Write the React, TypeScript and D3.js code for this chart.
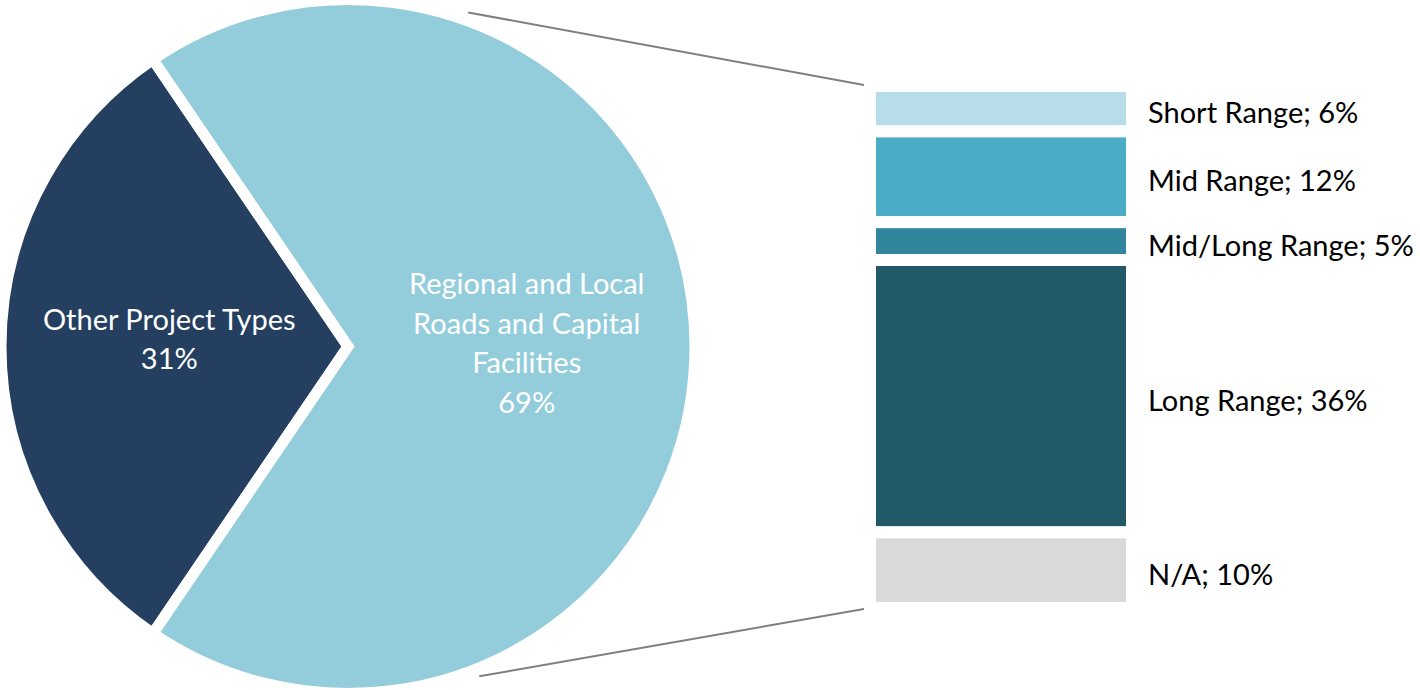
import * as d3 from "d3";

// pie: the two top-level groups
const pieNames = ["Other Project Types", "Regional and Local Roads and Capital Facilities"];
const pieLines = [["Other Project Types"], ["Regional and Local", "Roads and Capital", "Facilities"]];
const pieValues = [31, 69];
const pieColors = ["#243F60", "#93CDDC"];

// bar: breakdown of the 69% slice
const barNames = ["Short Range", "Mid Range", "Mid/Long Range", "Long Range", "N/A"];
const barValues = [6, 12, 5, 36, 10];
const barColors = ["#B7DEE8", "#4BACC6", "#31859C", "#215968", "#D9D9D9"];

const W = 1420;
const H = 690;
const CX = 348;
const CY = 346.5;
const R = 347;
const PIE_BORDER = 11;
const BAR_BORDER = 12;
const BAR_X0 = 870;
const BAR_X1 = 1132;
const BAR_Y0 = 86;
const BAR_Y1 = 608;
const FONT = "Lato, 'Open Sans', sans-serif";
const FONT_SIZE = 29;
const LINE_H = 39.5;

// connector start angles (degrees, clockwise from 3 o'clock) and radius
const CONNECT_TOP = -70.2;
const CONNECT_BOTTOM = 68.3;
const CONNECT_R = 355;

function polar(deg: number, r: number): [number, number] {
  const a = (deg * Math.PI) / 180;
  return [CX + r * Math.cos(a), CY + r * Math.sin(a)];
}

export default function App() {
  const total = d3.sum(pieValues);
  const half = (pieValues[0] / total) * Math.PI;
  const start = 1.5 * Math.PI - half;

  const pie = d3
    .pie<number>()
    .sort(null)
    .startAngle(start)
    .endAngle(start + 2 * Math.PI);
  const arcs = pie(pieValues);

  const arc = d3.arc<d3.PieArcDatum<number>>().innerRadius(0).outerRadius(R);
  const labelArc = d3
    .arc<d3.PieArcDatum<number>>()
    .innerRadius(R * 0.515)
    .outerRadius(R * 0.515);

  const barTotal = d3.sum(barValues);
  const y = d3.scaleLinear().domain([0, barTotal]).range([BAR_Y0, BAR_Y1]);
  const cum = d3.cumsum(barValues);
  const bars = barValues.map((v, i) => ({
    name: barNames[i],
    value: v,
    color: barColors[i],
    y0: y(cum[i] - v),
    y1: y(cum[i]),
  }));

  const top = polar(CONNECT_TOP, CONNECT_R);
  const bottom = polar(CONNECT_BOTTOM, CONNECT_R);

  return (
    <svg
      width={W}
      height={H}
      style={{ position: "fixed", left: 0, top: 0, display: "block", background: "#fff" }}
      fontFamily={FONT}
    >
      <line x1={top[0]} y1={top[1]} x2={BAR_X0 - 6} y2={BAR_Y0 - 1} stroke="#7F7F7F" strokeWidth={2} />
      <line x1={bottom[0]} y1={bottom[1]} x2={BAR_X0 - 6} y2={BAR_Y1 + 1} stroke="#7F7F7F" strokeWidth={2} />

      <g transform={`translate(${CX},${CY})`}>
        {arcs.map((a, i) => (
          <path
            key={pieNames[i]}
            d={arc(a) ?? ""}
            fill={pieColors[i]}
            stroke="#fff"
            strokeWidth={PIE_BORDER}
            strokeLinejoin="miter"
            strokeMiterlimit={20}
          />
        ))}
        {arcs.map((a, i) => {
          const [lx, ly] = labelArc.centroid(a);
          const lines = [...pieLines[i], `${pieValues[i]}%`];
          const shift = i === 0 ? -8 : -4;
          return (
            <text key={pieNames[i]} fill="#fff" fontSize={FONT_SIZE} textAnchor="middle">
              {lines.map((t, j) => (
                <tspan
                  key={j}
                  x={lx}
                  y={ly + shift + (j - (lines.length - 1) / 2) * LINE_H}
                  dy="0.38em"
                >
                  {t}
                </tspan>
              ))}
            </text>
          );
        })}
      </g>

      {bars.map((b) => (
        <g key={b.name}>
          <rect
            x={BAR_X0}
            y={b.y0}
            width={BAR_X1 - BAR_X0}
            height={b.y1 - b.y0}
            fill={b.color}
            stroke="#fff"
            strokeWidth={BAR_BORDER}
          />
          <text
            x={BAR_X1 + 16}
            y={(b.y0 + b.y1) / 2}
            dy="0.5em"
            fontSize={FONT_SIZE}
            fill="#000"
          >
            {`${b.name}; ${b.value}%`}
          </text>
        </g>
      ))}
    </svg>
  );
}
